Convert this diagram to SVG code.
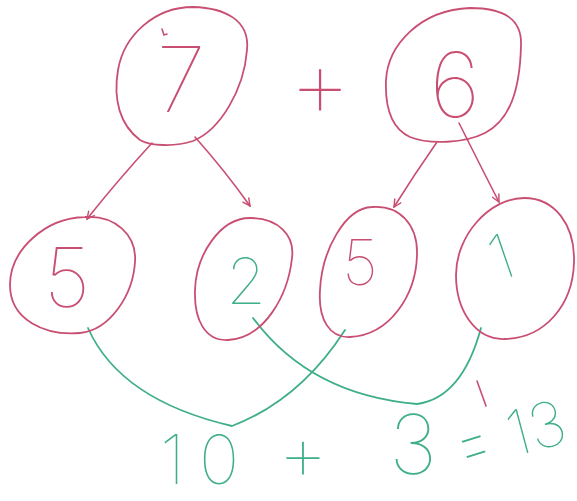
<svg xmlns="http://www.w3.org/2000/svg" width="577" height="501" viewBox="0 0 577 501">
  <style>
    .node { fill: none; stroke: #c94f72; stroke-width: 1.8; stroke-linejoin: round; }
    .edge { fill: none; stroke: #c94f72; stroke-width: 1.6; stroke-linecap: round; }
    .link { fill: none; stroke: #3fae8a; stroke-width: 1.8; stroke-linecap: round; }
    .txt { font-family: Inter, "Open Sans", "DejaVu Sans", sans-serif; font-weight: 100; text-anchor: middle; }
    .red { fill: #c94f72; }
    .green { fill: #3fae8a; }
  </style>
  <defs>
    <marker id="arrow" viewBox="0 0 10 10" refX="9" refY="5" markerWidth="9" markerHeight="9" markerUnits="userSpaceOnUse" orient="auto">
      <path d="M1,1 L9,5 L1,9" fill="none" stroke="#c94f72" stroke-width="1.6" stroke-linecap="round"/>
    </marker>
  </defs>
  <rect width="577" height="501" fill="#ffffff"/>

  <g id="connectors">
    <path class="edge" d="M152,143 Q118,180 87,219" marker-end="url(#arrow)"/>
    <path class="edge" d="M195,137 Q226,172 250,206" marker-end="url(#arrow)"/>
    <path class="edge" d="M437,142 Q414,175 394,207" marker-end="url(#arrow)"/>
    <path class="edge" d="M459,123 Q480,165 499,202" marker-end="url(#arrow)"/>
    <path class="link" d="M88,328 Q120,400 232,426 Q300,400 345,330"/>
    <path class="link" d="M253,318 Q310,395 417,404 Q462,398 481,328"/>
    <path class="edge" d="M477,381 L486,406"/>
  </g>

  <g id="node-7">
    <path class="node" d="M193,7 C225,8 250,20 247,50 C244,90 220,130 193,141 C175,147 150,146 140,140 C120,125 113,100 118,70 C124,35 155,7 193,7 Z"/>
    <path class="edge" d="M162,29 L164,35 L167,34"/>
    <text class="txt red" x="181" y="112" font-size="90">7</text>
  </g>

  <g id="op-plus">
    <text class="txt red" x="320" y="118" font-size="100">+</text>
  </g>

  <g id="node-6">
    <path class="node" d="M470,8 C505,8 522,20 521,45 C520,90 510,120 485,133 C465,143 430,145 410,137 C390,128 385,105 386,80 C388,45 420,10 470,8 Z"/>
    <text class="txt red" x="455" y="117" font-size="90">6</text>
  </g>

  <g id="node-5a">
    <path class="node" d="M85,217 C115,215 137,235 135,262 C133,295 110,330 80,333 C45,336 10,320 10,285 C10,250 45,218 85,217 Z"/>
    <text class="txt red" x="67" y="307" font-size="82">5</text>
  </g>

  <g id="node-2">
    <path class="node" d="M250,218 C278,218 295,235 292,258 C288,295 265,338 228,340 C205,341 194,320 195,290 C196,255 220,218 250,218 Z"/>
    <text class="txt green" x="246" y="304" font-size="64">2</text>
  </g>

  <g id="node-5b">
    <path class="node" d="M372,207 C400,205 418,225 417,255 C416,295 390,335 350,337 C330,338 318,320 320,290 C322,250 345,208 372,207 Z"/>
    <text class="txt red" x="360" y="285" font-size="63">5</text>
  </g>

  <g id="node-1">
    <path class="node" d="M524,198 C555,198 575,225 574,262 C573,305 545,338 505,339 C475,340 456,310 456,275 C456,235 490,198 524,198 Z"/>
    <text class="txt green" x="0" y="22" font-size="62" transform="translate(501,257) rotate(-19)">1</text>
  </g>

  <g id="result">
    <text class="txt green" x="160" y="484" font-size="68" letter-spacing="14" style="text-anchor:start">10</text>
    <text class="txt green" x="303" y="481" font-size="80">+</text>
    <text class="txt green" x="413" y="474" font-size="82">3</text>
    <text class="txt green" x="0" y="0" font-size="60" transform="translate(474,448) rotate(-17) scale(0.95,1.4) translate(0,16)">=</text>
    <text class="txt green" x="0" y="22" font-size="62" transform="translate(536,428) rotate(-15)">13</text>
  </g>
</svg>
